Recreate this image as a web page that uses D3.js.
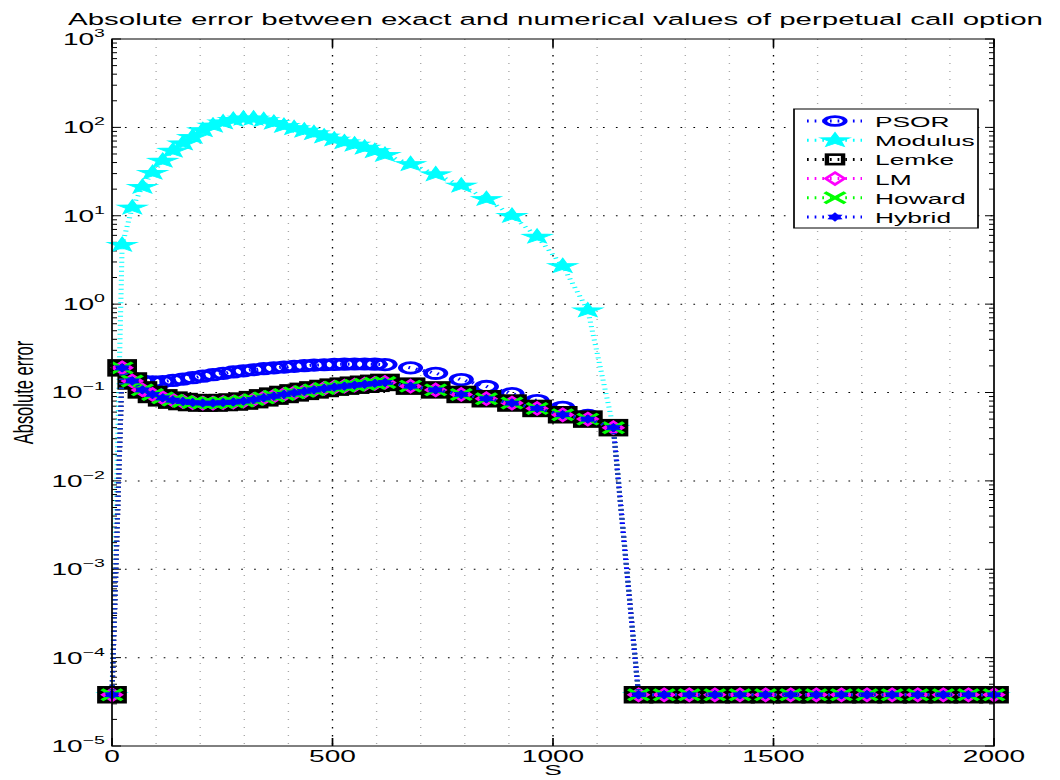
<!DOCTYPE html>
<html>
<head>
<meta charset="utf-8">
<script src="https://cdn.jsdelivr.net/npm/d3@7"></script>
<style>
  body { margin: 0; background: #fff; }
  svg { display: block; }
  text { font-family: "Liberation Sans", Arial, Helvetica, sans-serif; fill: #000; }
</style>
</head>
<body>
<div id="chart"></div>
<script>
// grid of asset prices S (fine up to ~620, coarser after)
const S = [0, 23, 46, 69, 92, 115, 138, 161, 183, 206, 229, 252, 275, 298, 321, 344, 367, 390,
  413, 436, 458, 481, 504, 527, 550, 573, 596, 619, 677, 734, 792, 849, 907, 964, 1022, 1079,
  1137, 1194, 1252, 1309, 1367, 1424, 1482, 1539, 1597, 1654, 1712, 1769, 1827, 1885, 1942, 2000];

const psorErr = [3.8e-5, 0.19, 0.145, 0.135, 0.132, 0.133, 0.137, 0.142, 0.147, 0.153, 0.159,
  0.165, 0.171, 0.176, 0.181, 0.186, 0.19, 0.194, 0.198, 0.201, 0.204, 0.206, 0.208, 0.209,
  0.21, 0.21, 0.209, 0.207, 0.19, 0.165, 0.14, 0.117, 0.097, 0.081, 0.068, 0.055, 0.038,
  3.8e-5, 3.8e-5, 3.8e-5, 3.8e-5, 3.8e-5, 3.8e-5, 3.8e-5, 3.8e-5, 3.8e-5, 3.8e-5, 3.8e-5,
  3.8e-5, 3.8e-5, 3.8e-5, 3.8e-5];

const modulusErr = [3.8e-5, 4.7, 12.4, 21.3, 30.7, 42, 54.5, 66, 78, 93, 105, 114, 122, 126,
  126, 121, 113, 104, 98, 92, 86, 79, 73, 68, 64, 59, 54, 49, 38.5, 29.5, 22, 15.5, 10, 5.8,
  2.7, 0.85, 0.04,
  3.8e-5, 3.8e-5, 3.8e-5, 3.8e-5, 3.8e-5, 3.8e-5, 3.8e-5, 3.8e-5, 3.8e-5, 3.8e-5, 3.8e-5,
  3.8e-5, 3.8e-5, 3.8e-5, 3.8e-5];

// Lemke, LM, Howard and Hybrid lie on top of each other
const lcpErr = [3.8e-5, 0.19, 0.135, 0.107, 0.095, 0.087, 0.082, 0.079, 0.077, 0.076, 0.076,
  0.077, 0.078, 0.08, 0.083, 0.087, 0.091, 0.095, 0.099, 0.103, 0.107, 0.111, 0.115, 0.118,
  0.121, 0.124, 0.127, 0.13, 0.118, 0.107, 0.095, 0.085, 0.076, 0.066, 0.056, 0.05, 0.04,
  3.8e-5, 3.8e-5, 3.8e-5, 3.8e-5, 3.8e-5, 3.8e-5, 3.8e-5, 3.8e-5, 3.8e-5, 3.8e-5, 3.8e-5,
  3.8e-5, 3.8e-5, 3.8e-5, 3.8e-5];

const seriesNames = ["PSOR", "Modulus", "Lemke", "LM", "Howard", "Hybrid"];
const seriesColors = ["#0000ff", "#00ffff", "#000000", "#ff00ff", "#00ff00", "#0000ff"];
const seriesMarkers = ["circle", "star", "square", "diamond", "cross", "hexagram"];
const seriesValues = [psorErr, modulusErr, lcpErr, lcpErr, lcpErr, lcpErr];

const xTicks = [0, 500, 1000, 1500, 2000];
const yExponents = [-5, -4, -3, -2, -1, 0, 1, 2, 3];

const titleText = "Absolute error between exact and numerical values of perpetual call option";

// the original figure is stretched sideways, so everything is drawn in a narrow
// logical space and scaled by SX
const width = 1060, height = 780, SX = 1.7;
const pLeft = 112 / SX, pRight = 994 / SX, pTop = 39, pBottom = 746;

const svg = d3.select("#chart").append("svg")
  .attr("width", width).attr("height", height);
const g = svg.append("g").attr("transform", `scale(${SX},1)`);

const x = d3.scaleLinear().domain([0, 2000]).range([pLeft, pRight]);
const y = d3.scaleLog().domain([1e-5, 1e3]).range([pBottom, pTop]);

// grid
const minorX = d3.range(100, 2000, 100).filter(v => v % 500 !== 0);
g.append("g").selectAll("line").data(minorX).join("line")
  .attr("x1", d => x(d)).attr("x2", d => x(d)).attr("y1", pTop).attr("y2", pBottom)
  .attr("stroke", "#a8a8a8").attr("stroke-width", 0.8).attr("stroke-dasharray", "1,7");
g.append("g").selectAll("line").data([500, 1000, 1500]).join("line")
  .attr("x1", d => x(d)).attr("x2", d => x(d)).attr("y1", pTop).attr("y2", pBottom)
  .attr("stroke", "#000").attr("stroke-width", 0.8).attr("stroke-dasharray", "1.5,6.5");
g.append("g").selectAll("line").data(yExponents.slice(1, -1)).join("line")
  .attr("x1", pLeft).attr("x2", pRight)
  .attr("y1", d => y(Math.pow(10, d))).attr("y2", d => y(Math.pow(10, d)))
  .attr("stroke", "#000").attr("stroke-width", 1).attr("stroke-dasharray", "1,6.6");

// ticks
const majorLen = 9 / SX, minorLen = 5 / SX;
const ticks = g.append("g").attr("stroke", "#000").attr("stroke-width", 1);
yExponents.forEach(e => {
  const v = Math.pow(10, e);
  [[pLeft, 1], [pRight, -1]].forEach(([x0, dir]) => {
    ticks.append("line").attr("x1", x0).attr("x2", x0 + dir * majorLen)
      .attr("y1", y(v)).attr("y2", y(v));
    if (e < 3) {
      for (let k = 2; k <= 9; k++) {
        ticks.append("line").attr("x1", x0).attr("x2", x0 + dir * minorLen)
          .attr("y1", y(k * v)).attr("y2", y(k * v));
      }
    }
  });
});
xTicks.forEach(t => {
  ticks.append("line").attr("x1", x(t)).attr("x2", x(t)).attr("y1", pBottom).attr("y2", pBottom - 8);
  ticks.append("line").attr("x1", x(t)).attr("x2", x(t)).attr("y1", pTop).attr("y2", pTop + 8);
});

// clip
svg.append("defs").append("clipPath").attr("id", "plotclip")
  .append("rect").attr("x", pLeft - 20).attr("y", pTop).attr("width", pRight - pLeft + 40)
  .attr("height", pBottom - pTop);

function starPath(rx, ry, n, inner) {
  const pts = [];
  for (let i = 0; i < 2 * n; i++) {
    const a = -Math.PI / 2 + i * Math.PI / n;
    const k = i % 2 ? inner : 1;
    pts.push((rx * k * Math.cos(a)).toFixed(2) + "," + (ry * k * Math.sin(a)).toFixed(2));
  }
  return "M" + pts.join("L") + "Z";
}

function addMarker(sel, kind, color, legend) {
  if (kind === "circle") {
    sel.append("ellipse").attr("rx", 6).attr("ry", legend ? 4.4 : 5.2)
      .attr("fill", "none").attr("stroke", color).attr("stroke-width", 2.8);
  } else if (kind === "star") {
    sel.append("path").attr("d", starPath(9.2, 7.8, 5, 0.42))
      .attr("fill", color).attr("stroke", color).attr("stroke-width", 0.8);
  } else if (kind === "square") {
    const s = legend ? 9.5 : 14.5;
    sel.append("rect").attr("x", -s / 2).attr("y", -s / 2).attr("width", s).attr("height", s)
      .attr("fill", legend ? "none" : "#000").attr("stroke", color)
      .attr("stroke-width", legend ? 2.6 : 3);
  } else if (kind === "diamond") {
    sel.append("path").attr("d", "M0,-6L5.5,0L0,6L-5.5,0Z")
      .attr("fill", "none").attr("stroke", color).attr("stroke-width", 2.2);
  } else if (kind === "cross") {
    sel.append("path").attr("d", "M-6,-5.5L6,5.5M-6,5.5L6,-5.5")
      .attr("fill", "none").attr("stroke", color).attr("stroke-width", 2.6);
  } else if (kind === "hexagram") {
    sel.append("path").attr("d", starPath(4.4, 4, 6, 0.62))
      .attr("fill", color).attr("stroke", color).attr("stroke-width", 0.8);
  }
}

// series
const plot = g.append("g").attr("clip-path", "url(#plotclip)");
const line = d3.line().x((d, i) => x(S[i])).y(d => y(d));
seriesNames.forEach((name, si) => {
  const vals = seriesValues[si];
  const sg = plot.append("g");
  sg.append("path").attr("d", line(vals))
    .attr("fill", "none").attr("stroke", seriesColors[si])
    .attr("stroke-width", 3).attr("stroke-dasharray", "1,3.5");
  sg.selectAll("g.mk").data(vals).join("g").attr("class", "mk")
    .attr("transform", (d, i) => `translate(${x(S[i])},${y(d)})`)
    .each(function () { addMarker(d3.select(this), seriesMarkers[si], seriesColors[si], false); });
});

// box
g.append("rect").attr("x", pLeft).attr("y", pTop).attr("width", pRight - pLeft)
  .attr("height", pBottom - pTop).attr("fill", "none").attr("stroke", "#000").attr("stroke-width", 1);

// tick labels
g.append("g").selectAll("text").data(yExponents).join("text")
  .attr("x", 105 / SX).attr("y", d => y(Math.pow(10, d)) + 6)
  .attr("text-anchor", "end").attr("font-size", 16.5)
  .each(function (d) {
    const t = d3.select(this);
    t.append("tspan").text("10");
    t.append("tspan").attr("dy", -8).attr("font-size", 11.5)
      .text(d < 0 ? "\u2212" + Math.abs(d) : String(d));
  });
g.append("g").selectAll("text").data(xTicks).join("text")
  .attr("x", d => x(d)).attr("y", 762).attr("text-anchor", "middle").attr("font-size", 16.5)
  .text(d => d);

// labels
g.append("text").attr("x", (pLeft + pRight) / 2).attr("y", 775).attr("text-anchor", "middle")
  .attr("font-size", 15.5).text("S");
g.append("text").attr("transform", `translate(${33 / SX},${(pTop + pBottom) / 2}) rotate(-90)`)
  .attr("text-anchor", "middle").attr("font-size", 16.5).text("Absolute error");
g.append("text").attr("x", 68 / SX).attr("y", 25.5).attr("font-size", 16.5)
  .attr("textLength", 975 / SX).attr("lengthAdjust", "spacingAndGlyphs").text(titleText);

// legend
const lg = g.append("g");
lg.append("rect").attr("x", 794 / SX).attr("y", 109).attr("width", (978 - 794) / SX)
  .attr("height", 119).attr("fill", "#fff").attr("stroke", "#000").attr("stroke-width", 1);
seriesNames.forEach((name, si) => {
  const ry = 121 + si * 19.2;
  lg.append("line").attr("x1", 807 / SX).attr("x2", 862 / SX).attr("y1", ry).attr("y2", ry)
    .attr("stroke", seriesColors[si]).attr("stroke-width", 3).attr("stroke-dasharray", "1,3.5");
  const mg = lg.append("g").attr("transform", `translate(${835 / SX},${ry})`);
  addMarker(mg, seriesMarkers[si], seriesColors[si], true);
  lg.append("text").attr("x", 875 / SX).attr("y", ry + 6).attr("font-size", 15.5).text(name);
});
</script>
</body>
</html>
